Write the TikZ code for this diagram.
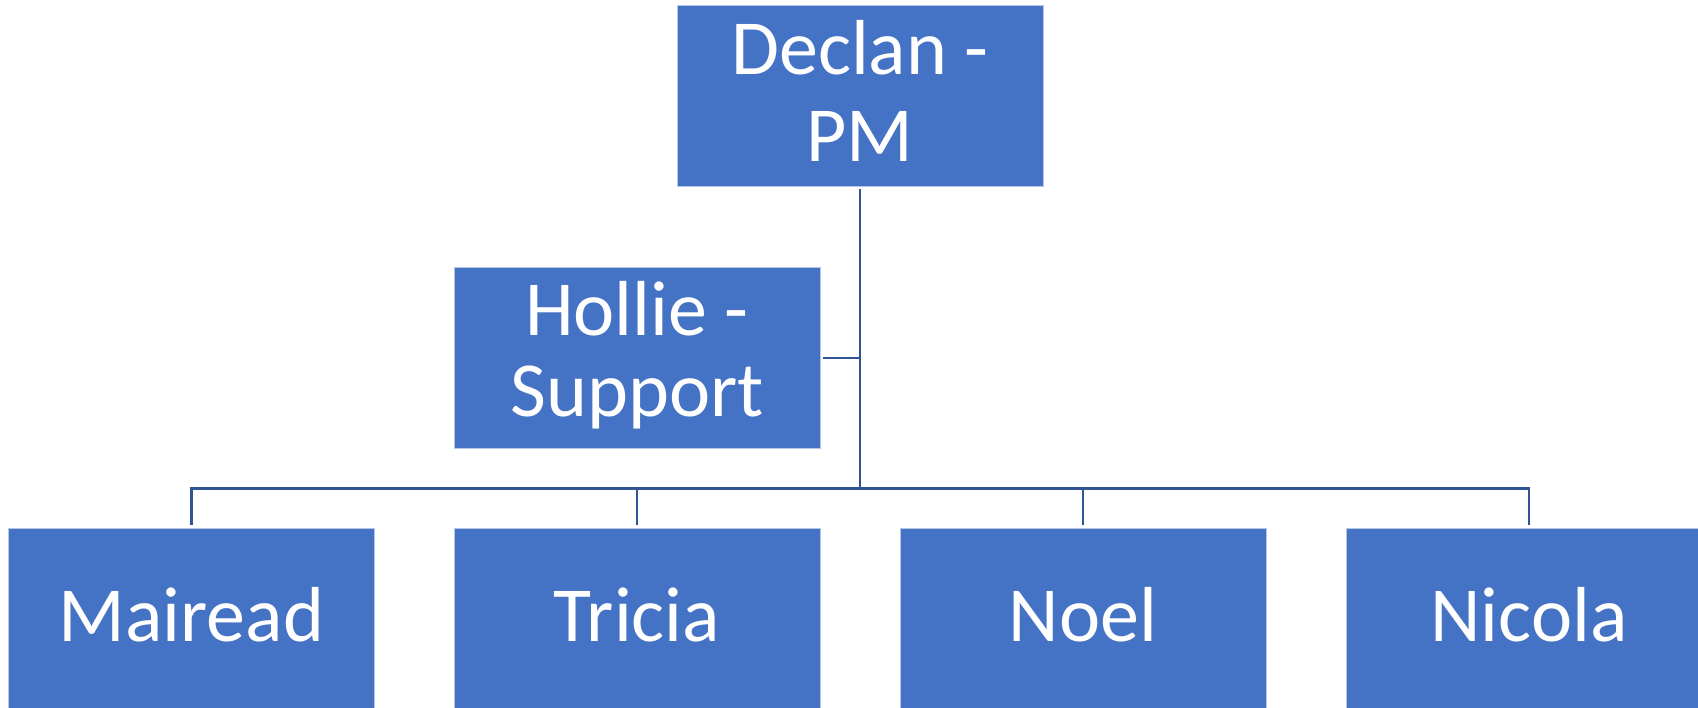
\documentclass[tikz,border=0pt]{standalone}
\usepackage{fontspec}
\setmainfont{Carlito}
\definecolor{boxblue}{HTML}{4472C4}
\definecolor{linkblue}{HTML}{2F5597}
\begin{document}
\begin{tikzpicture}[x=1pt,y=-1pt,
  person/.style={rectangle, fill=boxblue, draw=white!60!boxblue, line width=0.8pt,
    minimum width=366pt, minimum height=181pt, inner sep=0pt},
  label/.style={anchor=base, text=white, inner sep=0pt,
    font=\fontsize{78}{84}\selectfont},
  link/.style={draw=linkblue, line width=2.7pt}]
\useasboundingbox (0,0) rectangle (1698,708);
\clip (0,0) rectangle (1698,708);
\node[person] (declan) at (860,96) {};
\node[person] (hollie) at (637,357.5) {};
\node[person] (mairead) at (191.5,619) {};
\node[person] (tricia) at (637,619) {};
\node[person] (noel) at (1083,619) {};
\node[person] (nicola) at (1529,619) {};
\node[label] (declan1) at (860,75) {Declan -};
\node[label] (declan2) at (860,161.5) {PM};
\node[label] (hollie1) at (637,336) {Hollie -};
\node[label] (hollie2) at (637,416.5) {Support};
\node[label] (mairead1) at (191.5,641) {Mairead};
\node[label] (tricia1) at (637,641) {Tricia};
\node[label] (noel1) at (1083,641) {Noel};
\node[label] (nicola1) at (1529,641) {Nicola};
\coordinate (bus) at (860,488.5);
\coordinate (hj) at (860,358);
\draw[link, shorten <=2pt] (declan.south) -- (bus);
\draw[link, shorten <=2.7pt] (hollie.east |- hj) -- (hj);
\draw[link, shorten <=3pt, shorten >=3pt] (mairead.north) |- (bus) -| (nicola.north);
\draw[link, shorten >=3pt] (tricia.north |- bus) -- (tricia.north);
\draw[link, shorten >=3pt] (noel.north |- bus) -- (noel.north);
\end{tikzpicture}
\end{document}
